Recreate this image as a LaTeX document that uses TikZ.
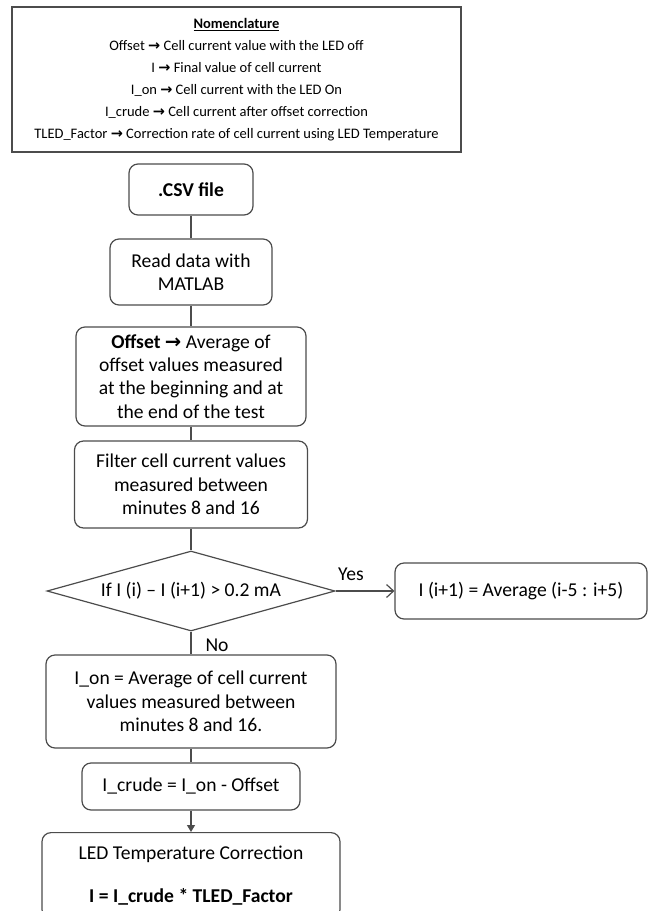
\documentclass[tikz,border=0pt]{standalone}
\usepackage{fontspec}
\setmainfont{Carlito}
\newfontfamily\arrowfont{DejaVu Sans}
\usetikzlibrary{shapes.geometric,arrows.meta}

\newcommand{\rarr}{{\arrowfont\bfseries\char"2192}}

\tikzset{
  flowbox/.style={draw=black!70, line width=1.2pt, rounded corners=9pt, align=center, inner sep=2pt, font=\fontsize{19.6}{23.3}\selectfont},
  link/.style={draw=black!70, line width=1.2pt},
  tag/.style={font=\fontsize{19.6}{23.3}\selectfont, inner sep=0pt},
}

\begin{document}
\begin{tikzpicture}[x=1pt,y=-1pt]
\useasboundingbox (0,0) rectangle (654,911);
% nomenclature
\node[draw=black!70, line width=1.2pt, minimum width=449pt, minimum height=145pt, align=center, font=\fontsize{14.5}{22}\selectfont] (nom) at (236.5,79.5) {\underline{\textbf{Nomenclature}}\\
Offset \rarr{} Cell current value with the LED off\\
I \rarr{} Final value of cell current\\
I\_on \rarr{} Cell current with the LED On\\
I\_crude \rarr{} Cell current after offset correction\\
TLED\_Factor \rarr{} Correction rate of cell current using LED Temperature};

% flow chart
\node[flowbox, minimum width=124pt, minimum height=51pt] (csv) at (191,189.5) {\textbf{.CSV file}};
\node[flowbox, minimum width=162pt, minimum height=66pt] (read) at (191,272) {Read data with\\MATLAB};
\node[flowbox, minimum width=230pt, minimum height=99pt] (offset) at (191,376.5) {\textbf{Offset} \rarr{} Average of\\offset values measured\\at the beginning and at\\the end of the test};
\node[flowbox, minimum width=233pt, minimum height=87pt] (filter) at (191,484.5) {Filter cell current values\\measured between\\minutes 8 and 16};
\node[diamond, draw=black!70, line width=1.2pt, aspect=3.6, minimum width=288pt, minimum height=80pt, inner sep=0pt, font=\fontsize{19.6}{23.3}\selectfont] (check) at (191,591) {If I (i) -- I (i+1) > 0.2 mA};
\node[flowbox, minimum width=252pt, minimum height=56pt] (avg) at (521,591) {I (i+1) = Average (i-5 : i+5)};
\node[flowbox, minimum width=290pt, minimum height=93pt] (ion) at (191,701.5) {I\_on = Average of cell current\\values measured between\\minutes 8 and 16.};
\node[flowbox, minimum width=218pt, minimum height=47pt] (icrude) at (191,786.5) {I\_crude = I\_on - Offset};
\node[flowbox, minimum width=298pt, minimum height=86pt, anchor=north] (led) at (191,832) {LED Temperature Correction\\[20pt]\textbf{I = I\_crude * TLED\_Factor}};

\node[tag] (yes) at (351,574) {Yes};
\node[tag] (no) at (217,645) {No};

\draw[link] (csv) -- (read);
\draw[link] (read) -- (offset);
\draw[link] (offset) -- (filter);
\draw[link] (filter) -- (check);
\draw[link, -{Straight Barb[length=7pt,width=13pt]}] (check) -- (avg);
\draw[link] (check) -- (ion);
\draw[link] (ion) -- (icrude);
\draw[link, -{Triangle[length=7pt,width=8pt]}] (icrude) -- (led);

\end{tikzpicture}
\end{document}
